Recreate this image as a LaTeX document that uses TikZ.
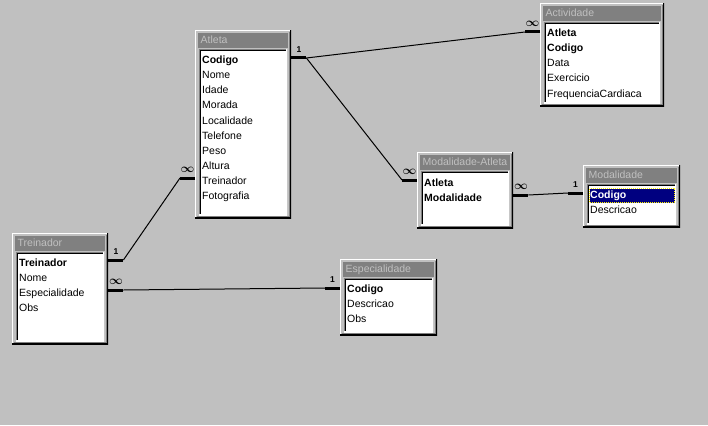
\documentclass[tikz,border=0pt]{standalone}
\usepackage{fontspec}
\setmainfont{Liberation Sans}
\definecolor{winface}{HTML}{C0C0C0}
\definecolor{winshadow}{HTML}{808080}
\definecolor{winlight}{HTML}{DFDFDF}
\definecolor{selblue}{HTML}{000080}
\newcommand{\tabfont}{\fontsize{10.5}{12}\selectfont}
\newcommand{\crowinf}{{\fontsize{11.5}{11.5}\selectfont\boldmath$\infty$}}
\tikzset{
  win/.style={anchor=north west, inner sep=0pt, fill=winface, path picture={
      \draw[line width=2pt, white] (path picture bounding box.south west) |- (path picture bounding box.north east);
      \draw[line width=2pt, black] (path picture bounding box.south west) -| (path picture bounding box.north east);
      \draw[line width=1pt, winshadow] ([shift={(1.5,-1.5)}]path picture bounding box.south west) -| ([shift={(-1.5,1.5)}]path picture bounding box.north east);
  }},
  lst/.style={anchor=north west, inner sep=0pt, fill=white, path picture={
      \draw[line width=2pt, winshadow] (path picture bounding box.south west) |- (path picture bounding box.north east);
      \draw[line width=2pt, white] (path picture bounding box.south west) -| (path picture bounding box.north east);
      \draw[line width=1pt, black] ([shift={(1.5,-1.5)}]path picture bounding box.south west) |- ([shift={(-1.5,1.5)}]path picture bounding box.north east);
  }},
  tabtitle/.style={anchor=north west, fill=winshadow, text=winface, font=\tabfont, inner xsep=2.5pt, inner ysep=0pt, minimum height=15pt, text height=8pt, text depth=2pt, align=left},
  field/.style={anchor=west, inner sep=0pt, font=\tabfont, text height=8pt, text depth=2pt},
  keyfield/.style={field, font=\tabfont\bfseries},
  selrow/.style={anchor=north west, inner sep=0pt, fill=selblue, draw=yellow, line width=1pt, dash pattern=on 1pt off 1pt},
  stub/.style={line width=3pt},
  rel/.style={line width=1pt},
  card/.style={above=4pt, inner sep=0pt, font=\fontsize{8.5}{8.5}\selectfont\bfseries, text height=5pt, text depth=0pt}
}
\begin{document}
\begin{tikzpicture}[x=1pt,y=-1pt]
\useasboundingbox (0,0) rectangle (708,425);
\fill[winface] (0,0) rectangle (708,425);

% Atleta
\node[win, minimum width=96pt, minimum height=188pt] (atleta) at (195,30) {};
\node[tabtitle, text width=85pt] (atleta-tit) at (198,33) {Atleta};
\node[lst, minimum width=88pt, minimum height=166pt] (atleta-lst) at (199,49) {};
\node[keyfield] (at-codigo) at (202,61) {Codigo};
\foreach \f [count=\i] in {Nome,Idade,Morada,Localidade,Telefone,Peso,Altura,Treinador,Fotografia}
  \node[field] (at-\f) at (202,61+15*\i) {\f};

% Treinador
\node[win, minimum width=96pt, minimum height=111pt] (treinador) at (12,233) {};
\node[tabtitle, text width=85pt] (treinador-tit) at (15,236) {Treinador};
\node[lst, minimum width=88pt, minimum height=89pt] (treinador-lst) at (16,252) {};
\node[keyfield] (tr-treinador) at (19,263) {Treinador};
\foreach \f [count=\i] in {Nome,Especialidade,Obs}
  \node[field] (tr-\f) at (19,263+15*\i) {\f};

% Actividade
\node[win, minimum width=124pt, minimum height=103pt] (actividade) at (540,3) {};
\node[tabtitle, text width=113pt] (actividade-tit) at (543,6) {Actividade};
\node[lst, minimum width=116pt, minimum height=81pt] (actividade-lst) at (544,22) {};
\node[keyfield] (ac-atleta) at (547,34) {Atleta};
\node[keyfield] (ac-codigo) at (547,49) {Codigo};
\foreach \f [count=\i] in {Data,Exercicio,FrequenciaCardiaca}
  \node[field] (ac-\f) at (547,49+15*\i) {\f};

% Modalidade-Atleta
\node[win, minimum width=96pt, minimum height=76pt] (modatleta) at (417,152) {};
\node[tabtitle, text width=85pt] (modatleta-tit) at (420,155) {Modalidade-Atleta};
\node[lst, minimum width=88pt, minimum height=54pt] (modatleta-lst) at (421,171) {};
\node[keyfield] (ma-atleta) at (424,183) {Atleta};
\node[keyfield] (ma-modalidade) at (424,198) {Modalidade};

% Modalidade
\node[win, minimum width=97pt, minimum height=62pt] (modalidade) at (583,165) {};
\node[tabtitle, text width=86pt] (modalidade-tit) at (586,168) {Modalidade};
\node[lst, minimum width=89pt, minimum height=40pt] (modalidade-lst) at (587,184) {};
\node[selrow, minimum width=85pt, minimum height=14pt] (mo-sel) at (589,188) {};
\node[keyfield, text=white] (mo-codigo) at (590,195) {Codigo};
\node[field] (mo-descricao) at (590,210) {Descricao};

% Especialidade
\node[win, minimum width=97pt, minimum height=76pt] (especialidade) at (340,259) {};
\node[tabtitle, text width=86pt] (especialidade-tit) at (343,262) {Especialidade};
\node[lst, minimum width=89pt, minimum height=54pt] (especialidade-lst) at (344,278) {};
\node[keyfield] (es-codigo) at (347,289) {Codigo};
\foreach \f [count=\i] in {Descricao,Obs}
  \node[field] (es-\f) at (347,289+15*\i) {\f};

% relationships
\draw[stub] (atleta.east |- at-codigo) ++(0,-3) -- node[card]{1} ++(15,0) coordinate (r1-a);
\draw[stub] (actividade.west |- ac-atleta) ++(0,-2) -- node[card]{\crowinf} ++(-15,0) coordinate (r1-b);
\draw[rel] (r1-a) -- (r1-b);
\draw[stub] (modatleta.west |- ma-atleta) ++(0,-3) -- node[card]{\crowinf} ++(-15,0) coordinate (r2-b);
\draw[rel] (r1-a) -- (r2-b);

\draw[stub] (treinador.east |- tr-treinador) ++(0,-3) -- node[card]{1} ++(15,0) coordinate (r3-a);
\draw[stub] (atleta.west |- at-Treinador) ++(0,-3) -- node[card]{\crowinf} ++(-15,0) coordinate (r3-b);
\draw[rel] (r3-a) -- (r3-b);

\draw[stub] (treinador.east |- tr-Especialidade) ++(0,-3) -- node[card]{\crowinf} ++(15,0) coordinate (r4-a);
\draw[stub] (especialidade.west |- es-codigo) ++(0,-1) -- node[card]{1} ++(-15,0) coordinate (r4-b);
\draw[rel] (r4-a) -- (r4-b);

\draw[stub] (modatleta.east |- ma-modalidade) ++(0,-3) -- node[card]{\crowinf} ++(15,0) coordinate (r5-a);
\draw[stub] (modalidade.west |- mo-codigo) ++(0,-2) -- node[card]{1} ++(-15,0) coordinate (r5-b);
\draw[rel] (r5-a) -- (r5-b);
\end{tikzpicture}
\end{document}
